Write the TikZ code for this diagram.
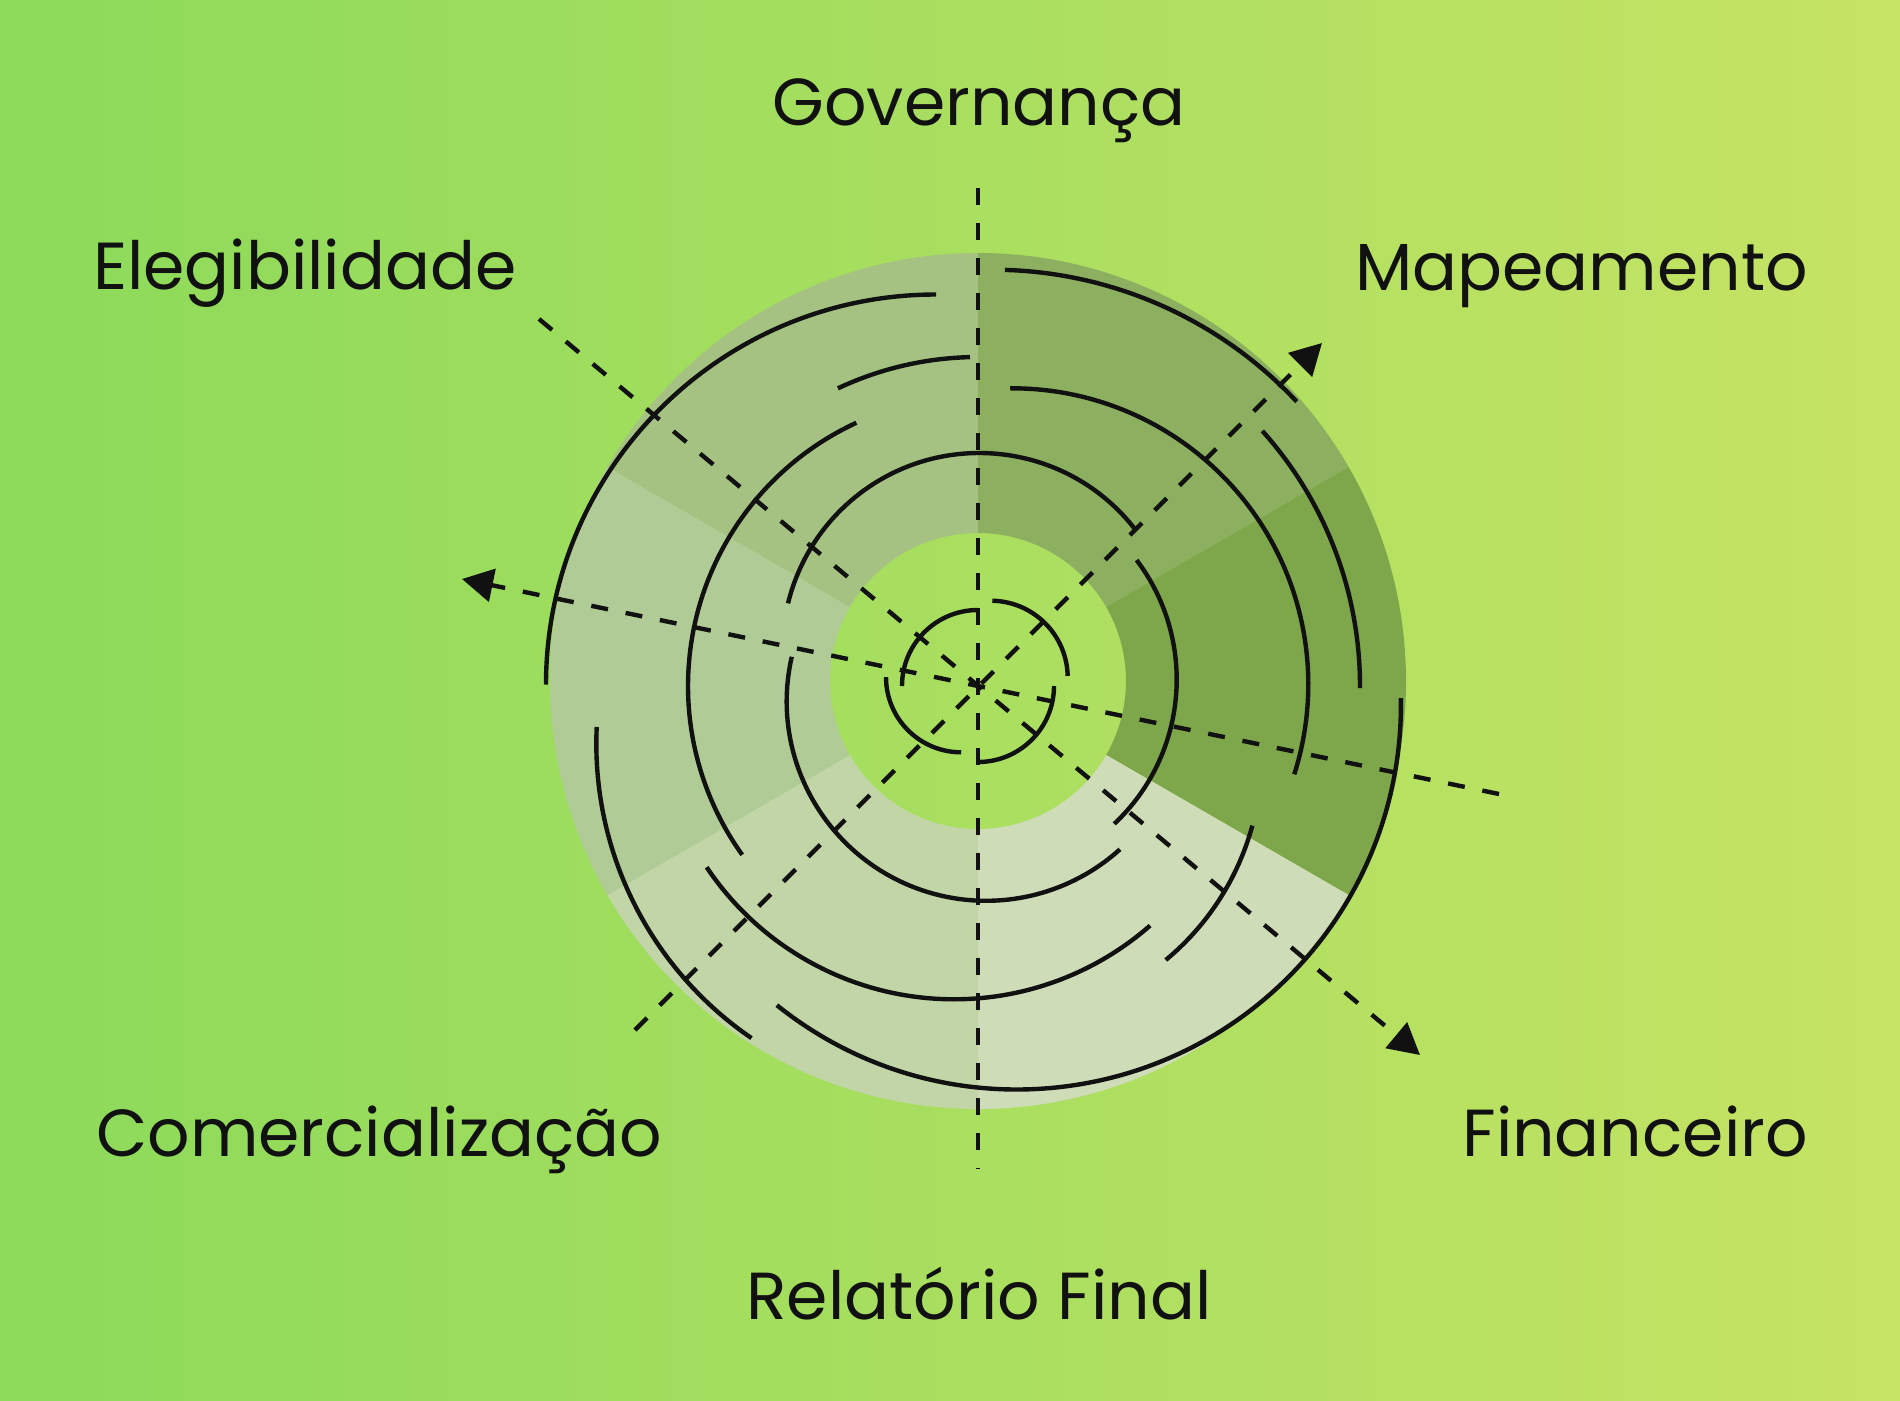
\documentclass[tikz,border=0pt]{standalone}
\usepackage{fontspec}
\setmainfont{Poppins}
\usetikzlibrary{arrows.meta,calc}
\definecolor{bgL}{RGB}{140,218,90}
\definecolor{bgR}{RGB}{198,227,100}
\definecolor{ink}{RGB}{17,17,17}
\definecolor{sA}{RGB}{165,194,131}
\definecolor{sB}{RGB}{140,176,96}
\definecolor{sC}{RGB}{126,166,75}
\definecolor{sD}{RGB}{207,220,184}
\definecolor{sE}{RGB}{193,213,166}
\definecolor{sF}{RGB}{177,203,151}
\tikzset{
  maze/.style={draw=ink, line width=4.4pt},
  axisline/.style={draw=ink, line width=4.4pt, dash pattern=on 17pt off 18pt},
  tipped/.style={-{Triangle[length=31pt,width=33pt]}},
  lbl/.style={inner sep=0pt, text=ink, font=\fontsize{66.5}{78}\selectfont},
}
\newcommand\mazearc[5]{\draw[maze] ($(#1,#2)+(#4:#3)$) arc[start angle=#4, end angle=#5, radius=#3];}
\begin{document}
\begin{tikzpicture}[x=1pt,y=1pt]
\shade[left color=bgL, right color=bgR] (0,0) rectangle (1900,-1400);
\useasboundingbox (0,0) rectangle (1900,-1400);
\coordinate (D) at (978,-681);
\coordinate (O) at (978,-686);
% sectors
\fill[sA] ($(D)+(90:428)$) arc[start angle=90, end angle=150, radius=428] -- ($(D)+(150:148)$) arc[start angle=150, end angle=90, radius=148] -- cycle;
\fill[sB] ($(D)+(30:428)$) arc[start angle=30, end angle=90, radius=428] -- ($(D)+(90:148)$) arc[start angle=90, end angle=30, radius=148] -- cycle;
\fill[sC] ($(D)+(-30:428)$) arc[start angle=-30, end angle=30, radius=428] -- ($(D)+(30:148)$) arc[start angle=30, end angle=-30, radius=148] -- cycle;
\fill[sD] ($(D)+(270:428)$) arc[start angle=270, end angle=330, radius=428] -- ($(D)+(330:148)$) arc[start angle=330, end angle=270, radius=148] -- cycle;
\fill[sE] ($(D)+(210:428)$) arc[start angle=210, end angle=270, radius=428] -- ($(D)+(270:148)$) arc[start angle=270, end angle=210, radius=148] -- cycle;
\fill[sF] ($(D)+(150:428)$) arc[start angle=150, end angle=210, radius=428] -- ($(D)+(210:148)$) arc[start angle=210, end angle=150, radius=148] -- cycle;
% maze arcs
\mazearc{936}{-684.5}{390}{90}{180}
\mazearc{978}{-686}{329}{91.4}{115.2}
\mazearc{978}{-686}{290}{114.8}{215.6}
\mazearc{979.4}{-650}{197}{37.2}{166.3}
\mazearc{992.6}{-686.2}{416.5}{43.1}{88.3}
\mazearc{1012.3}{-684.3}{296}{-17.7}{90.4}
\mazearc{978.7}{-679.5}{198}{-46.8}{37.1}
\mazearc{978}{-686}{382}{-0.3}{41.9}
\mazearc{1016.9}{-705.5}{384}{-128.7}{1.1}
\mazearc{997.2}{-756.3}{264.4}{-50.4}{-15.2}
\mazearc{954}{-701.6}{297.7}{213.8}{311.2}
\mazearc{986.2}{-701.3}{199.5}{167.1}{312.1}
\mazearc{953}{-743.8}{356.7}{177.3}{235.6}
\mazearc{978}{-686}{76}{90}{180}
\mazearc{990.7}{-677.7}{77}{1.3}{88.8}
\mazearc{961.2}{-677.1}{75.2}{180}{270}
\mazearc{978}{-686}{76}{-89}{0}
% axes
\coordinate (vT) at (978,-188);
\coordinate (vB) at (978,-1169);
\coordinate (nw) at (539,-319);
\coordinate (se) at (1420,-1055);
\coordinate (sw) at (635,-1030);
\coordinate (ne) at (1322,-343);
\coordinate (hw) at (462,-579);
\coordinate (he) at (1499,-794);
\draw[axisline] (vT) -- (O) -- (vB);
\draw[axisline, tipped] (nw) -- (se);
\draw[axisline, tipped] (sw) -- (ne);
\draw[axisline, tipped] (he) -- (hw);
% labels
\node[lbl, anchor=base] (gov) at (979,-125) {Governança};
\node[lbl, anchor=base west] (ele) at (93,-289) {Elegibilidade};
\node[lbl, anchor=base east] (map) at (1808,-290) {Mapeamento};
\node[lbl, anchor=base west] (com) at (96,-1156) {Comercialização};
\node[lbl, anchor=base east] (fin) at (1808,-1156) {Financeiro};
\node[lbl, anchor=base] (rel) at (979,-1319) {Relatório Final};
\end{tikzpicture}
\end{document}
